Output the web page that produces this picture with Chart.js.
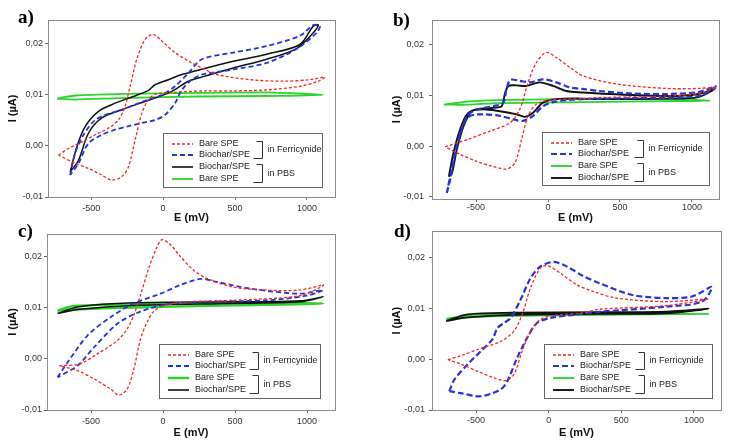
<!DOCTYPE html>
<html>
<head>
<meta charset="utf-8">
<script src="https://cdn.jsdelivr.net/npm/chart.js@4.4.1/dist/chart.umd.min.js"></script>
<style>
  body { margin: 0; background: #fff; }
  #wrap { position: relative; width: 731px; height: 444px; overflow: hidden; background: #fff; }
  canvas { position: absolute; }
  .tag { position: absolute; font-family: "Liberation Serif", "Times New Roman", serif; font-weight: bold; font-size: 19px; line-height: 1; color: #000; }
</style>
</head>
<body>
<div id="wrap">
  <canvas id="chartA" width="365" height="230" style="left:0;top:0"></canvas>
  <canvas id="chartB" width="366" height="230" style="left:365px;top:0"></canvas>
  <canvas id="chartC" width="365" height="222" style="left:0;top:222px"></canvas>
  <canvas id="chartD" width="366" height="222" style="left:365px;top:222px"></canvas>
  <div class="tag" style="left:18px;top:7px">a)</div>
  <div class="tag" style="left:393px;top:10px">b)</div>
  <div class="tag" style="left:18px;top:221px">c)</div>
  <div class="tag" style="left:394px;top:221px">d)</div>
</div>
<script>
// Axis ticks
const eTicks = [-500, 0, 500, 1000];
const iTicks = [-0.01, 0, 0.01, 0.02];
const groupLabels = ['in Ferricynide', 'in PBS'];

// Panel a) curves, [E (mV), I (µA)]
const aBareFerri = [[-727,-0.0018],[-658,-0.0005],[-565,0.0008],[-472,0.0022],[-380,0.0035],[-310,0.0051],[-264,0.0078],[-229,0.0117],[-183,0.017],[-125,0.0209],[-67,0.0219],[-9,0.0206],[83,0.0183],[199,0.0163],[292,0.015],[373,0.014],[604,0.013],[836,0.0127],[1021,0.013],[1125,0.0135],[1080,0.0127],[951,0.0117],[720,0.011],[488,0.0108],[292,0.0108],[60,0.0105],[-56,0.0101],[-102,0.0091],[-148,0.0064],[-194,0.0012],[-241,-0.0041],[-287,-0.006],[-356,-0.0067],[-426,-0.0057],[-519,-0.0044],[-611,-0.0034],[-727,-0.0018]];
const aBiocharFerri = [[-646,-0.0057],[-611,-0.0014],[-553,0.0022],[-472,0.0051],[-380,0.0063],[-287,0.0071],[-194,0.0081],[-102,0.0091],[-9,0.01],[83,0.0117],[176,0.0143],[269,0.017],[488,0.0183],[720,0.0196],[951,0.0216],[1044,0.0237],[1090,0.0235],[1067,0.0222],[928,0.019],[720,0.0163],[488,0.015],[269,0.014],[199,0.013],[130,0.011],[83,0.0084],[14,0.0061],[-56,0.0051],[-148,0.0045],[-241,0.0039],[-333,0.0032],[-426,0.0022],[-519,0.0005],[-588,-0.0034],[-646,-0.0057]];
const aBiocharPBS = [[-646,-0.0051],[-599,-0.0001],[-542,0.0038],[-449,0.0068],[-333,0.0084],[-217,0.0096],[-102,0.0109],[-56,0.012],[37,0.013],[130,0.014],[222,0.0147],[488,0.0166],[720,0.018],[951,0.0199],[1044,0.0235],[1079,0.0237],[1044,0.0222],[928,0.0191],[720,0.017],[488,0.0153],[292,0.0137],[176,0.0127],[60,0.0107],[-56,0.0094],[-171,0.0083],[-287,0.0071],[-426,0.0055],[-519,0.0025],[-588,-0.0028],[-646,-0.0051]];
const aBarePBS = [[-738,0.0093],[-611,0.0099],[-287,0.0102],[250,0.0104],[720,0.0105],[1113,0.01],[720,0.0098],[250,0.0097],[-287,0.0094],[-611,0.0091],[-738,0.0093]];

// Panel b)
const bBareFerri = [[-715,-0.0001],[-563,0.0013],[-403,0.003],[-265,0.0046],[-196,0.0073],[-138,0.0126],[-81,0.0165],[-12,0.0185],[58,0.0175],[150,0.0156],[242,0.0139],[470,0.0123],[816,0.0114],[1046,0.0114],[1170,0.0116],[1046,0.0104],[816,0.0099],[355,0.0096],[242,0.0094],[12,0.0091],[-81,0.0083],[-138,0.006],[-184,0.0013],[-230,-0.0033],[-288,-0.0045],[-380,-0.004],[-494,-0.003],[-611,-0.0016],[-715,-0.0001]];
const bBiocharFerri = [[-703,-0.0092],[-680,-0.0066],[-645,-0.0013],[-600,0.0033],[-553,0.0063],[-472,0.0074],[-380,0.0079],[-311,0.0086],[-288,0.0113],[-260,0.0131],[-196,0.0129],[-127,0.0126],[-35,0.0132],[58,0.0126],[150,0.0116],[242,0.0113],[355,0.0109],[585,0.0104],[816,0.0103],[1046,0.0107],[1165,0.0118],[1046,0.0099],[585,0.0095],[242,0.0093],[127,0.0091],[35,0.0087],[-35,0.0079],[-104,0.006],[-173,0.005],[-240,0.0053],[-334,0.006],[-449,0.0063],[-530,0.0061],[-576,0.005],[-622,0.0013],[-665,-0.004],[-703,-0.0092]];
const bBarePBS = [[-724,0.0082],[-563,0.0088],[-334,0.0091],[242,0.0093],[816,0.0093],[1125,0.009],[816,0.0089],[242,0.0087],[-334,0.0085],[-563,0.0082],[-724,0.0082]];
const bBiocharPBS = [[-689,-0.006],[-657,-0.0013],[-611,0.0033],[-563,0.0063],[-494,0.0073],[-380,0.0076],[-322,0.0079],[-300,0.0103],[-275,0.0119],[-218,0.012],[-149,0.0119],[-57,0.0126],[35,0.0119],[127,0.0109],[242,0.0106],[355,0.0104],[816,0.0099],[1046,0.0103],[1160,0.0114],[1046,0.0097],[816,0.0094],[355,0.0093],[242,0.0094],[58,0.0093],[-35,0.0086],[-104,0.0066],[-161,0.0058],[-218,0.0063],[-334,0.0069],[-449,0.0073],[-530,0.0069],[-586,0.004],[-634,-0.0007],[-667,-0.0053],[-689,-0.006]];

// Panel c)
const cBareFerri = [[-721,-0.0013],[-583,-0.001],[-456,0.001],[-318,0.0036],[-249,0.0059],[-203,0.0086],[-157,0.0125],[-99,0.0178],[-41,0.022],[-7,0.0234],[51,0.0224],[120,0.0201],[212,0.0174],[304,0.0158],[488,0.0141],[719,0.0135],[949,0.0135],[1115,0.0145],[949,0.0124],[488,0.0115],[166,0.0112],[5,0.0105],[-65,0.0093],[-111,0.0072],[-157,0.0039],[-203,-0.002],[-249,-0.0059],[-306,-0.0071],[-364,-0.0059],[-479,-0.0039],[-594,-0.0023],[-721,-0.0013]];
const cBiocharFerri = [[-733,-0.0036],[-664,-0.0007],[-525,0.0046],[-364,0.0082],[-203,0.0109],[-18,0.0128],[120,0.0145],[258,0.0157],[373,0.0151],[604,0.0138],[949,0.0128],[1111,0.0135],[995,0.0124],[719,0.0115],[258,0.0112],[28,0.0107],[-157,0.0093],[-318,0.0069],[-479,0.0023],[-594,-0.0013],[-733,-0.0036]];
const cBarePBS = [[-733,0.0095],[-618,0.0104],[-203,0.0107],[488,0.011],[1111,0.0109],[488,0.0105],[-203,0.0101],[-618,0.0097],[-733,0.0095]];
const cBiocharPBS = [[-733,0.0089],[-594,0.0102],[-203,0.011],[488,0.0112],[949,0.0114],[1111,0.0122],[949,0.0112],[488,0.0109],[-203,0.0105],[-594,0.0097],[-733,0.0089]];

// Panel d)
const dBareFerri = [[-694,-0.0001],[-602,0.0007],[-478,0.002],[-329,0.0035],[-239,0.0055],[-182,0.0088],[-125,0.014],[-57,0.0179],[-11,0.0184],[80,0.0169],[193,0.0146],[307,0.0133],[464,0.012],[805,0.0113],[1100,0.0118],[805,0.0105],[350,0.0098],[239,0.0091],[34,0.0086],[-57,0.0078],[-125,0.0055],[-182,0.0016],[-239,-0.003],[-295,-0.0042],[-375,-0.0037],[-489,-0.0024],[-602,-0.001],[-694,-0.0001]];
const dBiocharFerri = [[-684,-0.0063],[-648,-0.004],[-557,-0.001],[-466,0.0016],[-387,0.0039],[-353,0.0061],[-307,0.0071],[-261,0.0081],[-193,0.0117],[-125,0.0159],[-57,0.0182],[34,0.0191],[125,0.0182],[239,0.0163],[350,0.0149],[577,0.0126],[805,0.012],[986,0.0123],[1123,0.0142],[1055,0.0113],[805,0.0103],[350,0.0093],[171,0.0087],[12,0.0081],[-80,0.0071],[-148,0.0042],[-216,0.0003],[-284,-0.0043],[-332,-0.006],[-469,-0.0073],[-605,-0.0067],[-684,-0.0063]];
const dBarePBS = [[-705,0.0079],[-557,0.0086],[-250,0.0089],[350,0.009],[1100,0.0089],[350,0.0087],[-250,0.0085],[-557,0.0082],[-705,0.0079]];
const dBiocharPBS = [[-705,0.0075],[-557,0.0088],[-250,0.0091],[350,0.0092],[805,0.0093],[1100,0.0099],[805,0.009],[350,0.0089],[-250,0.0087],[-557,0.0082],[-705,0.0075]];

const FONT = 'Arial, "Liberation Sans", sans-serif';

// line styles
const red = { borderColor: '#f02828', borderWidth: 1.3, borderDash: [3, 2] };
const blue = { borderColor: '#2634d6', borderWidth: 1.8, borderDash: [5, 3] };
const green = { borderColor: '#2bd42b', borderWidth: 1.8, borderDash: [] };
const black = { borderColor: '#111111', borderWidth: 1.5, borderDash: [] };

function curve(label, points, style) {
    return Object.assign({
        label: label,
        data: points.map(p => ({ x: p[0], y: p[1] })),
        showLine: true,
        pointRadius: 0,
        tension: 0.3,
        fill: false
    }, style);
}

// frame round the plot and the bracketed legend box
const panelDecor = {
    id: 'panelDecor',
    afterDatasetsDraw(chart, args, opts) {
        const ctx = chart.ctx;
        const ca = chart.chartArea;
        ctx.save();
        ctx.strokeStyle = '#8c8c8c';
        ctx.lineWidth = 1;
        ctx.setLineDash([]);
        ctx.strokeRect(Math.round(ca.left) + 0.5, Math.round(ca.top) + 0.5,
            Math.round(ca.right - ca.left), Math.round(ca.bottom - ca.top));

        const [x, y, w, h] = opts.box;
        const rows = [11, 22, 34, 46];
        ctx.fillStyle = '#fff';
        ctx.fillRect(x, y, w, h);
        ctx.strokeStyle = '#666';
        ctx.strokeRect(x + 0.5, y + 0.5, w, h);

        ctx.font = '9px ' + FONT;
        ctx.textBaseline = 'middle';
        opts.order.forEach((idx, i) => {
            const ds = chart.data.datasets[idx];
            const ly = y + rows[i];
            ctx.strokeStyle = ds.borderColor;
            ctx.lineWidth = Math.max(ds.borderWidth, 1.6);
            ctx.setLineDash(ds.borderDash);
            ctx.beginPath();
            ctx.moveTo(x + 9, ly);
            ctx.lineTo(x + 30, ly);
            ctx.stroke();
            ctx.fillStyle = '#222';
            ctx.fillText(ds.label, x + 36, ly);
        });

        // brackets
        ctx.setLineDash([]);
        ctx.lineWidth = 1;
        ctx.strokeStyle = '#333';
        ctx.fillStyle = '#222';
        [[0, 1], [2, 3]].forEach((g, gi) => {
            const bx = x + opts.bracketX + 0.5;
            const top = y + rows[g[0]] - 3 + 0.5;
            const bot = y + rows[g[1]] + 3 + 0.5;
            ctx.beginPath();
            ctx.moveTo(bx - 6, top);
            ctx.lineTo(bx, top);
            ctx.lineTo(bx, bot);
            ctx.lineTo(bx - 9, bot);
            ctx.stroke();
            ctx.fillText(groupLabels[gi], bx + 5, (top + bot) / 2);
        });
        ctx.restore();
    }
};

function makePanel(id, p) {
    new Chart(document.getElementById(id), {
        type: 'scatter',
        data: { datasets: p.datasets },
        plugins: [panelDecor],
        options: {
            responsive: false,
            animation: false,
            layout: { padding: { left: 0, top: p.padTop, right: p.padRight, bottom: 0 } },
            plugins: {
                legend: { display: false },
                tooltip: { enabled: false },
                panelDecor: { box: p.box, order: p.order, bracketX: p.bracketX }
            },
            scales: {
                x: {
                    type: 'linear',
                    min: p.xMin,
                    max: p.xMax,
                    afterBuildTicks: s => { s.ticks = eTicks.map(v => ({ value: v })); },
                    afterFit: s => { s.height = p.xAxisH; },
                    grid: { drawOnChartArea: false, tickLength: 3, color: '#666' },
                    border: { display: false },
                    ticks: { padding: p.xTickPad, color: '#333', maxRotation: 0, font: { size: 9, family: FONT },
                        callback: v => String(v) },
                    title: { display: true, text: 'E (mV)', color: '#111',
                        font: { size: 11, weight: 'bold', family: FONT },
                        padding: { top: 0, bottom: p.xTitlePad } }
                },
                y: {
                    type: 'linear',
                    min: p.yMin,
                    max: p.yMax,
                    afterBuildTicks: s => { s.ticks = iTicks.map(v => ({ value: v })); },
                    afterFit: s => { s.width = p.yAxisW; },
                    grid: { drawOnChartArea: false, tickLength: 3, color: '#666' },
                    border: { display: false },
                    ticks: { padding: p.yTickPad, color: '#333', font: { size: 9, family: FONT },
                        callback: v => v.toFixed(2).replace('.', ',') },
                    title: { display: true, text: 'I (µA)', color: '#111',
                        font: { size: 11, weight: 'bold', family: FONT },
                        padding: { top: p.yTitlePad, bottom: 0 } }
                }
            }
        }
    });
}

makePanel('chartA', {
    datasets: [
        curve('Bare SPE', aBareFerri, red),
        curve('Biochar/SPE', aBiocharFerri, blue),
        curve('Biochar/SPE', aBiocharPBS, black),
        curve('Bare SPE', aBarePBS, green)
    ],
    order: [0, 1, 2, 3],
    xMin: -800, xMax: 1195, yMin: -0.01, yMax: 0.0247,
    padTop: 20, padRight: 30, yAxisW: 48, xAxisH: 33,
    xTickPad: 3.5, yTickPad: 2, xTitlePad: 5.4, yTitlePad: 6.4,
    box: [163, 133, 159, 54], bracketX: 99
});

makePanel('chartB', {
    datasets: [
        curve('Bare SPE', bBareFerri, red),
        curve('Biochar/SPE', bBiocharFerri, Object.assign({}, blue, { borderWidth: 2.2, borderDash: [6, 3] })),
        curve('Biochar/SPE', bBiocharPBS, Object.assign({}, black, { borderWidth: 1.9 })),
        curve('Bare SPE', bBarePBS, green)
    ],
    order: [0, 1, 3, 2],
    xMin: -806, xMax: 1188, yMin: -0.0104, yMax: 0.0249,
    padTop: 20, padRight: 12, yAxisW: 67, xAxisH: 31,
    xTickPad: 0.6, yTickPad: 5, xTitlePad: 5.4, yTitlePad: 25.4,
    box: [177, 132, 167, 53], bracketX: 101
});

makePanel('chartC', {
    datasets: [
        curve('Bare SPE', cBareFerri, red),
        curve('Biochar/SPE', cBiocharFerri, blue),
        curve('Biochar/SPE', cBiocharPBS, black),
        curve('Bare SPE', cBarePBS, Object.assign({}, green, { borderWidth: 2.4 }))
    ],
    order: [0, 1, 3, 2],
    xMin: -806, xMax: 1194, yMin: -0.01, yMax: 0.0245,
    padTop: 12, padRight: 30, yAxisW: 47, xAxisH: 34,
    xTickPad: 3.3, yTickPad: 2, xTitlePad: 4.4, yTitlePad: 6.4,
    box: [159, 122, 161, 54], bracketX: 99
});

makePanel('chartD', {
    datasets: [
        curve('Bare SPE', dBareFerri, red),
        curve('Biochar/SPE', dBiocharFerri, Object.assign({}, blue, { borderWidth: 2.2, borderDash: [6, 3] })),
        curve('Biochar/SPE', dBiocharPBS, Object.assign({}, black, { borderWidth: 1.9 })),
        curve('Bare SPE', dBarePBS, green)
    ],
    order: [0, 1, 3, 2],
    xMin: -803, xMax: 1186, yMin: -0.01, yMax: 0.0251,
    padTop: 8, padRight: 10, yAxisW: 67, xAxisH: 34,
    xTickPad: 2.6, yTickPad: 4, xTitlePad: 4.4, yTitlePad: 25.4,
    box: [179, 122, 168, 54], bracketX: 100
});
</script>
</body>
</html>
